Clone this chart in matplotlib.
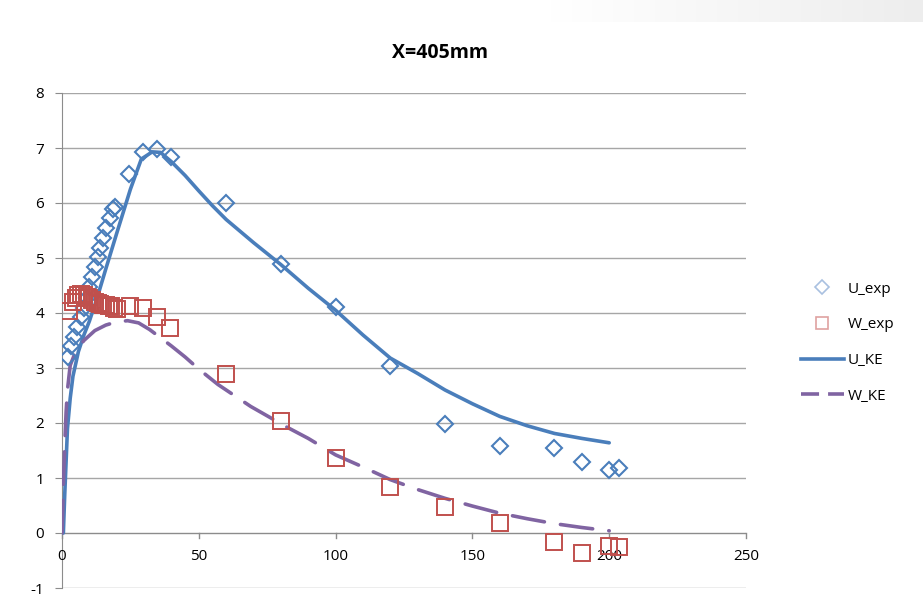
import matplotlib
matplotlib.use("Agg")
import matplotlib.pyplot as plt
import numpy as np
from matplotlib.lines import Line2D

# ---- data ----
u_exp_x = [2.3, 3.4, 4.5, 5.6, 6.8, 7.9, 9.0, 10.0, 11.0, 12.0, 13.0, 14.0, 15.0, 16.2, 17.4, 18.5, 19.5,
           24.5, 29.6, 34.7, 39.9, 60, 80, 100, 120, 140, 160, 180, 190, 200, 203.5]
u_exp_y = [3.20, 3.40, 3.57, 3.74, 3.92, 4.10, 4.28, 4.47, 4.65, 4.83, 5.01, 5.19, 5.37, 5.55, 5.73, 5.90, 5.92,
           6.52, 6.92, 6.98, 6.84, 6.00, 4.89, 4.11, 3.04, 1.99, 1.59, 1.55, 1.30, 1.15, 1.18]

w_exp_x = [2.5, 4, 5, 6, 7, 8, 9, 10, 11, 12, 13, 14, 15, 16, 17, 18, 19, 20,
           24.9, 29.7, 34.6, 39.5, 60, 80, 100, 120, 140, 160, 180, 190, 200, 203.5]
w_exp_y = [4.03, 4.20, 4.27, 4.32, 4.35, 4.33, 4.30, 4.27, 4.24, 4.20, 4.18, 4.16, 4.15, 4.14, 4.13, 4.12, 4.10, 4.08,
           4.12, 4.10, 3.93, 3.73, 2.89, 2.04, 1.36, 0.84, 0.47, 0.18, -0.17, -0.36, -0.23, -0.25]

u_ke_x = [0.5, 1, 2, 3, 4, 6, 8, 10, 13, 16, 20, 25, 29, 33, 36, 40, 45, 50, 55, 60, 70, 80, 90,
          100, 110, 120, 130, 140, 150, 160, 170, 180, 190, 200]
u_ke_y = [0.0, 0.7, 1.9, 2.45, 2.85, 3.3, 3.6, 3.85, 4.3, 4.8, 5.45, 6.25, 6.8, 6.93, 6.92, 6.75, 6.5, 6.22, 5.95, 5.7,
          5.28, 4.88, 4.45, 4.05, 3.6, 3.18, 2.9, 2.6, 2.35, 2.12, 1.95, 1.81, 1.72, 1.64]

w_ke_x = [0, 0.5, 1, 1.5, 2, 3, 5, 8, 12, 16, 20, 24, 28, 32, 36, 40, 45, 50, 57, 63, 69, 75, 82, 90,
          100, 110, 120, 130, 140, 150, 160, 170, 180, 190, 200]
w_ke_y = [0.0, 0.9, 1.6, 2.2, 2.6, 3.05, 3.3, 3.5, 3.68, 3.78, 3.84, 3.86, 3.82, 3.7, 3.55, 3.4, 3.2, 2.98, 2.7, 2.5,
          2.3, 2.13, 1.93, 1.72, 1.42, 1.2, 0.97, 0.79, 0.63, 0.49, 0.36, 0.26, 0.17, 0.1, 0.04]

x_ticks = [0, 50, 100, 150, 200, 250]
y_ticks = [-1, 0, 1, 2, 3, 4, 5, 6, 7, 8]
title = "X=405mm"
labels = ["U_exp", "W_exp", "U_KE", "W_KE"]

# ---- style ----
plt.rcParams['font.family'] = ['Open Sans', 'DejaVu Sans']
BLUE = "#4A7EBB"
RED = "#C0504D"
PURPLE = "#8064A2"
GRID = "#A6A6A6"
AXIS = "#8C8C8C"

fig = plt.figure(figsize=(9.23, 6.06), dpi=100)

# decorative gradient band at top right
gax = fig.add_axes([550/923, 1-22/606, 373/923, 22/606])
grad = np.linspace(1.0, 0.93, 256).reshape(1, -1)
gax.imshow(np.dstack([grad, grad, grad]), aspect='auto', extent=[0, 1, 0, 1])
gax.axis('off')

ax = fig.add_axes([62/923, 1-588/606, (746-62)/923, (588-93)/606])
ax.set_xlim(0, 250)
ax.set_ylim(-1, 8)

for yv in y_ticks:
    if yv != 0:
        ax.axhline(yv, color=GRID, lw=1.0, zorder=0)
ax.axhline(0, color=AXIS, lw=1.0, zorder=1)

for s in ['top', 'right', 'bottom']:
    ax.spines[s].set_visible(False)
ax.spines['left'].set_color(AXIS)

ax.set_yticks(y_ticks)
ax.set_yticklabels([str(v) for v in y_ticks], fontsize=11)
ax.tick_params(axis='y', length=5, color=AXIS, pad=8)
ax.set_xticks([])
for xv in x_ticks:
    ax.plot([xv, xv], [0, -0.09], color=AXIS, lw=1.0, clip_on=False, zorder=1)
    ax.text(xv, -0.3, str(xv), ha='center', va='top', fontsize=11)

ax.plot(u_ke_x, u_ke_y, color=BLUE, lw=2.6, zorder=3, solid_capstyle='round')
ax.plot(w_ke_x, w_ke_y, color=PURPLE, lw=2.6, zorder=3, dashes=(9, 4.5), dash_capstyle='round')
ax.plot(u_exp_x, u_exp_y, ls='none', marker='D', ms=8.5, mfc='none', mec=BLUE, mew=1.5, zorder=4)
ax.plot(w_exp_x, w_exp_y, ls='none', marker='s', ms=11, mfc='none', mec=RED, mew=1.4, zorder=4)

fig.text(440/923, 1-53/606, title, ha='center', va='center', fontsize=14, fontweight='bold')

handles = [
    Line2D([], [], ls='none', marker='D', ms=7, mfc='none', mec="#A9C0E0", mew=1.2),
    Line2D([], [], ls='none', marker='s', ms=9, mfc='none', mec="#DFA2A1", mew=1.2),
    Line2D([], [], color=BLUE, lw=2.6),
    Line2D([], [], color=PURPLE, lw=2.6, dashes=(5, 2.5)),
]
fig.legend(handles, labels, loc='upper left', bbox_to_anchor=(787/923, 1-268/606), frameon=False,
           fontsize=11, handlelength=2.8, labelspacing=1.35, handletextpad=0.3)

fig.savefig("out.png", dpi=100)
